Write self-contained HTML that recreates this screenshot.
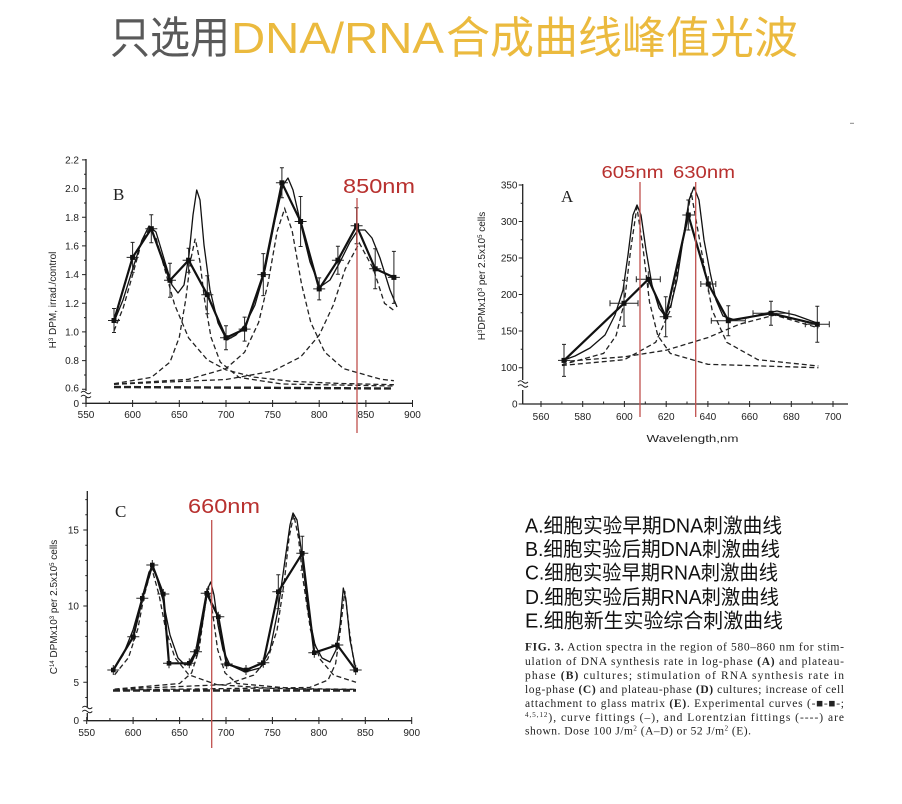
<!DOCTYPE html>
<html><head><meta charset="utf-8"><style>
html,body{margin:0;padding:0;background:#fff;}
svg{display:block;}
.t{font-family:"Liberation Sans",Arial,sans-serif;font-size:10px;fill:#222;}
.ax{stroke:#222;stroke-width:1.3;fill:none;}
.tk{stroke:#222;stroke-width:1;fill:none;}
.ex{stroke:#111;stroke-width:2.2;fill:none;stroke-linejoin:round;}
.fit{stroke:#111;stroke-width:1.3;fill:none;stroke-linejoin:round;}
.ds{stroke:#222;stroke-width:1.3;fill:none;stroke-dasharray:5 3;}
.bl{stroke:#222;stroke-width:2.4;fill:none;stroke-dasharray:7 3;}
.er{stroke:#222;stroke-width:1;fill:none;}
.rl{stroke:#c0504d;stroke-width:1.3;}
.rt{font-family:"Liberation Sans","Noto Sans CJK SC",sans-serif;fill:#b8312f;}
.fig{font-family:"Liberation Serif",serif;font-size:17px;fill:#222;}
.cn{font-family:"Liberation Sans","Noto Sans CJK SC",sans-serif;font-size:20px;fill:#111;}
.cap{font-family:"Liberation Serif",serif;font-size:11.5px;fill:#222;}
</style></head><body>
<svg width="902" height="804" viewBox="0 0 902 804" xmlns="http://www.w3.org/2000/svg">
<rect width="902" height="804" fill="#fff"/>

<!-- Title -->
<text y="53" font-size="44" font-family="'Liberation Sans','Noto Sans CJK SC',sans-serif"><tspan x="110" fill="#595959" textLength="120" lengthAdjust="spacingAndGlyphs">只选用</tspan><tspan x="231" fill="#ebba3e" textLength="213" lengthAdjust="spacingAndGlyphs">DNA/RNA</tspan><tspan x="446" fill="#ebba3e" textLength="352" lengthAdjust="spacingAndGlyphs">合成曲线峰值光波</tspan></text>

<path d="M850,123.3h4" stroke="#888" stroke-width="1"/>

<!-- ================= Chart B ================= -->
<g>
<path class="ax" d="M86,159V391M86,397V404M86,403.3H412"/>
<path class="tk" d="M82,159.9h4M82,188.6h4M82,217.3h4M82,245.9h4M82,274.6h4M82,303.3h4M82,331.9h4M82,360.6h4M82,389.3h4M82,403.3h4
M84,174.3h2M84,203h2M84,231.6h2M84,260.3h2M84,289h2M84,317.6h2M84,346.3h2M84,375h2"/>
<path class="tk" d="M86,400v7M132.6,400v7M179.3,400v7M226,400v7M272.6,400v7M319.2,400v7M365.9,400v7M412.5,400v7
M109.3,401v2.3M156,401v2.3M202.6,401v2.3M249.3,401v2.3M295.9,401v2.3M342.6,401v2.3M389.2,401v2.3"/>
<path d="M81,392.5q2.5,-2.5 5,0t5,0M81,396.5q2.5,-2.5 5,0t5,0" stroke="#222" stroke-width="1" fill="none"/>
<g class="t" text-anchor="end">
<text x="79" y="163.5">2.2</text><text x="79" y="192">2.0</text><text x="79" y="221">1.8</text><text x="79" y="249.5">1.6</text><text x="79" y="278">1.4</text><text x="79" y="307">1.2</text><text x="79" y="335.5">1.0</text><text x="79" y="364">0.8</text><text x="79" y="391.5">0.6</text><text x="79" y="407">0</text>
</g>
<g class="t" text-anchor="middle">
<text x="86" y="418">550</text><text x="132.6" y="418">600</text><text x="179.3" y="418">650</text><text x="226" y="418">700</text><text x="272.6" y="418">750</text><text x="319.2" y="418">800</text><text x="365.9" y="418">850</text><text x="412.5" y="418">900</text>
</g>
<text class="t" font-size="9" text-anchor="middle" transform="translate(56,300) rotate(-90)">H<tspan font-size="6" dy="-3">3</tspan><tspan dy="3"> DPM, irrad./control</tspan></text>
<text class="fig" x="113" y="200">B</text>

<path class="bl" d="M114,387L394,388.5"/>
<path class="ds" d="M114,330.9L123.3,307.6L132.6,274.9L142,240.6L149.4,228.7L156,238L165.3,271.1L174.6,304.7L188.6,337.9L207.3,359.8L226,369.9L253.9,377.1L291.2,381.3L337.9,383.4L393.9,384.7"/>
<path class="ds" d="M114,383.7L151.3,377.4L170,362.1L179.3,337.2L185.8,299.2L190.5,260.7L195.2,238.7L199.8,260.7L204.5,299.2L211,337.2L220.3,362.1L239,377.4L281.9,384L393.9,386"/>
<path class="ds" d="M114,384.1L188.6,379.3L226,368.6L244.6,352.2L258.6,322.5L267.9,283.9L277.2,231.1L284.7,208.6L292.2,231.1L301.5,283.9L310.8,322.5L324.8,352.2L343.5,368.6L380.8,379.3L393.9,380.7"/>
<path class="ds" d="M114,384.3L226,379.5L272.6,371.2L300.6,357L319.2,335.2L333.2,305.3L345.3,268.8L359.3,243L373.3,268.8L384.5,303.3L393.9,310.4"/>
<path class="fit" d="M114,322L123,300L133,268L142,240L149,226L156,232L165,262L172,285L178,293L184,285L189,255L193,215L196.7,190L200,200L204,245L210,290L218,323L226.7,340L236,335L245,325L255,305L265,270L275,220L283,185L288,178L293,190L301,225L310,262L320,287L330,280L340,262L350,242L358,230L365,230L372,238L380,258L390,290L397,307"/>
<path class="ex" d="M114,320.5L132.6,257.4L151.3,228.7L170,280.3L188.6,260.2L207.3,294.7L226,337.7L244.6,329.1L263.3,274.6L281.9,182.8L300.6,221.5L319.2,288.9L337.9,260.2L356.6,225.8L375.2,268.8L393.9,277.4"/>
<path class="er" d="M108,320.5h12M114,308.5v24M112,308.5h4M112,332.5h4
M126.6,257.4h12M132.6,242.4v30M130.6,242.4h4M130.6,272.4h4
M145.3,228.7h12M151.3,214.7v28M149.3,214.7h4M149.3,242.7h4
M164,280.3h12M170,263.3v34M168,263.3h4M168,297.3h4
M182.6,260.2h12M188.6,248.2v24M186.6,248.2h4M186.6,272.2h4
M201.3,294.7h12M207.3,275.7v38M205.3,275.7h4M205.3,313.7h4
M220,337.7h12M226,325.7v24M224,325.7h4M224,349.7h4
M238.6,329.1h12M244.6,317.1v24M242.6,317.1h4M242.6,341.1h4
M257.3,274.6h12M263.3,253.6v42M261.3,253.6h4M261.3,295.6h4
M275.9,182.8h12M281.9,167.8v30M279.9,167.8h4M279.9,197.8h4
M294.6,221.5h12M300.6,196.5v50M298.6,196.5h4M298.6,246.5h4
M313.2,288.9h12M319.2,277.9v22M317.2,277.9h4M317.2,299.9h4
M331.9,260.2h12M337.9,246.2v28M335.9,246.2h4M335.9,274.2h4
M350.6,225.8h12M356.6,207.8v36M354.6,207.8h4M354.6,243.8h4
M369.2,268.8h12M375.2,248.8v40M373.2,248.8h4M373.2,288.8h4
M387.9,277.4h12M393.9,251.4v52M391.9,251.4h4M391.9,303.4h4"/>
<g fill="#111">
<rect x="111.5" y="318" width="5" height="5"/><rect x="130.1" y="254.9" width="5" height="5"/><rect x="148.8" y="226.2" width="5" height="5"/><rect x="167.5" y="277.8" width="5" height="5"/><rect x="186.1" y="257.7" width="5" height="5"/><rect x="204.8" y="292.2" width="5" height="5"/><rect x="223.5" y="335.2" width="5" height="5"/><rect x="242.1" y="326.6" width="5" height="5"/><rect x="260.8" y="272.1" width="5" height="5"/><rect x="279.4" y="180.3" width="5" height="5"/><rect x="298.1" y="219" width="5" height="5"/><rect x="316.7" y="286.4" width="5" height="5"/><rect x="335.4" y="257.7" width="5" height="5"/><rect x="354.1" y="223.3" width="5" height="5"/><rect x="372.7" y="266.3" width="5" height="5"/><rect x="391.4" y="274.9" width="5" height="5"/>
</g>
<line class="rl" x1="357" y1="198" x2="357" y2="433"/>
<text class="rt" x="343" y="193" font-size="20" textLength="72" lengthAdjust="spacingAndGlyphs">850nm</text>
</g>

<!-- ================= Chart A ================= -->
<g>
<path class="ax" d="M522.7,184V380M522.7,390V404.5M522.7,404H848"/>
<path class="tk" d="M518.7,185h4M518.7,221.5h4M518.7,258h4M518.7,294.5h4M518.7,331h4M518.7,367.7h4M518.7,404h4
M520.7,203.3h2M520.7,239.8h2M520.7,276.3h2M520.7,312.8h2M520.7,349.3h2"/>
<path class="tk" d="M541,401v6M582.7,401v6M624.4,401v6M666.2,401v6M707.9,401v6M749.6,401v6M791.3,401v6M833,401v6
M561.9,401.5v2.5M603.6,401.5v2.5M645.3,401.5v2.5M687,401.5v2.5M728.8,401.5v2.5M770.5,401.5v2.5M812.2,401.5v2.5"/>
<path d="M518,382q2.5,-2.5 5,0t5,0M518,386q2.5,-2.5 5,0t5,0" stroke="#222" stroke-width="1" fill="none"/>
<g class="t" text-anchor="end">
<text x="517.5" y="188.5">350</text><text x="517.5" y="225">300</text><text x="517.5" y="261.5">250</text><text x="517.5" y="298">200</text><text x="517.5" y="334.5">150</text><text x="517.5" y="371">100</text><text x="517.5" y="407.5">0</text>
</g>
<g class="t" text-anchor="middle">
<text x="541" y="420">560</text><text x="582.7" y="420">580</text><text x="624.4" y="420">600</text><text x="666.2" y="420">620</text><text x="707.9" y="420">640</text><text x="749.6" y="420">660</text><text x="791.3" y="420">680</text><text x="833" y="420">700</text>
</g>
<text class="t" font-size="12.5" x="692.5" y="442" text-anchor="middle" textLength="92" lengthAdjust="spacingAndGlyphs">Wavelength,nm</text>
<text class="t" font-size="9.5" text-anchor="middle" transform="translate(485,276) rotate(-90)">H<tspan font-size="6" dy="-3">3</tspan><tspan dy="3">DPMx10</tspan><tspan font-size="6" dy="-3">3</tspan><tspan dy="3"> per 2.5x10</tspan><tspan font-size="6" dy="-3">5</tspan><tspan dy="3"> cells</tspan></text>
<text class="fig" x="561" y="202">A</text>

<path class="ds" d="M561.9,364.8L603.6,353.4L616.1,335.6L624.4,302L630.7,249.5L636.9,207.1L643.2,249.5L649.5,302L657.8,335.6L670.3,353.4L707.9,364.3L818.4,367.7"/>
<path class="ds" d="M561.9,365.5L624.4,359.7L655.7,342.3L670.3,310L680.8,251.6L691.2,192.5L701.6,251.6L712.1,310L726.7,342.3L757.9,359.7L818.4,366"/>
<path class="ds" d="M561.9,361.6L624.4,356.8L666.2,350.2L707.9,337.6L739.2,324.3L774.6,315.1L818.4,327.9"/>
<path class="fit" d="M564,360L575,356L590,348L605,335L615,315L623,290L628,255L633,215L637,205L641,215L646,250L652,285L659,308L665,316L671,305L677,280L683,240L689,200L694,187L699,200L704,240L710,272L716,300L723,316L735,320L747,318L762,314L777,311L795,315L817,323"/>
<path class="ex" d="M564,360.4L624,303.3L648.3,279.3L665.7,316.7L688.3,215L708.3,284L728.3,320.7L771,313.3L817.3,324.3"/>
<path class="er" d="M558,360.4h12M564,344.4v32M562,344.4h4M562,376.4h4
M610,303.3h28M624,280.3v46M622,280.3h4M622,326.3h4M610,300.3v6M638,300.3v6
M636.3,279.3h24M648.3,271.3v16M660.3,276.3v6M636.3,276.3v6
M659.7,316.7h12M665.7,296.7v40M663.7,296.7h4M663.7,336.7h4
M682.3,215h12M688.3,200v30M686.3,200h4M686.3,230h4
M700.8,284h15M708.3,276v16M700.8,281v6M715.8,281v6
M711.3,320.7h34M728.3,305.7v30M726.3,305.7h4M726.3,335.7h4M711.3,317.7v6M745.3,317.7v6
M753,313.3h36M771,301.3v24M769,301.3h4M769,325.3h4M753,310.3v6M789,310.3v6
M805.3,324.3h24M817.3,306.3v36M815.3,306.3h4M815.3,342.3h4M805.3,321.3v6M829.3,321.3v6"/>
<g fill="#111">
<rect x="561.5" y="357.9" width="5" height="5"/><rect x="621.5" y="300.8" width="5" height="5"/><rect x="645.8" y="276.8" width="5" height="5"/><rect x="663.2" y="314.2" width="5" height="5"/><rect x="685.8" y="212.5" width="5" height="5"/><rect x="705.8" y="281.5" width="5" height="5"/><rect x="725.8" y="318.2" width="5" height="5"/><rect x="768.5" y="310.8" width="5" height="5"/><rect x="814.8" y="321.8" width="5" height="5"/>
</g>
<line class="rl" x1="640" y1="182" x2="640" y2="417"/>
<line class="rl" x1="695.7" y1="182" x2="695.7" y2="417"/>
<text class="rt" x="601.5" y="178" font-size="17.5" textLength="62" lengthAdjust="spacingAndGlyphs">605nm</text>
<text class="rt" x="673" y="178" font-size="17.5" textLength="62" lengthAdjust="spacingAndGlyphs">630nm</text>
</g>

<!-- ================= Chart C ================= -->
<g>
<path class="ax" d="M87.3,491V707M87.3,713V721M87.3,720.7H412"/>
<path class="tk" d="M83.3,530h4M83.3,606h4M83.3,682.3h4M83.3,720.7h4
M85.3,499.6h2M85.3,514.8h2M85.3,545.2h2M85.3,560.4h2M85.3,575.6h2M85.3,590.8h2M85.3,621.2h2M85.3,636.4h2M85.3,651.6h2M85.3,666.8h2M85.3,697.5h2"/>
<path class="tk" d="M86.7,717v7M133.1,717v7M179.6,717v7M226,717v7M272.4,717v7M318.9,717v7M365.3,717v7M411.7,717v7
M109.9,718v2.7M156.4,718v2.7M202.8,718v2.7M249.2,718v2.7M295.7,718v2.7M342.1,718v2.7M388.5,718v2.7"/>
<path d="M82.3,707.5q2.5,-2.5 5,0t5,0M82.3,711.5q2.5,-2.5 5,0t5,0" stroke="#222" stroke-width="1" fill="none"/>
<g class="t" text-anchor="end">
<text x="79" y="533.5">15</text><text x="79" y="609.5">10</text><text x="79" y="685.8">5</text><text x="79" y="724">0</text>
</g>
<g class="t" text-anchor="middle">
<text x="86.7" y="736">550</text><text x="133.1" y="736">600</text><text x="179.6" y="736">650</text><text x="226" y="736">700</text><text x="272.4" y="736">750</text><text x="318.9" y="736">800</text><text x="365.3" y="736">850</text><text x="411.7" y="736">900</text>
</g>
<text class="t" font-size="9.5" text-anchor="middle" transform="translate(57,607) rotate(-90)">C<tspan font-size="6" dy="-3">14</tspan><tspan dy="3"> DPMx10</tspan><tspan font-size="6" dy="-3">3</tspan><tspan dy="3"> per 2.5x10</tspan><tspan font-size="6" dy="-3">5</tspan><tspan dy="3"> cells</tspan></text>
<text class="fig" x="115" y="517">C</text>

<path class="bl" d="M113,690.5L356,690.5"/>
<path class="ds" d="M114.6,674.8L128.5,657.6L137.8,629L144.3,595.1L151.7,568.1L159.1,595.1L165.6,629L174.9,657.6L188.8,674.8L216.7,684.6L272.4,688.4L356,689.3"/>
<path class="ds" d="M114.6,689.1L179.6,683.5L191.6,672.9L199.1,649.4L203.7,615.5L208.3,586.4L213,615.5L217.6,649.4L225,672.9L237.1,683.5L300.3,689.1L356,689.5"/>
<path class="ds" d="M114.6,689.2L226,684.6L253.8,675.1L267.8,658.9L277.1,629.9L284.5,579.9L289.1,537.4L293.8,514.9L298.4,537.4L303.1,579.9L310.5,629.9L319.8,658.9L333.7,675.1L356,682.3"/>
<path class="ds" d="M114.6,690L309.6,687.5L328.1,680L335.6,663.7L340.2,631.5L344.8,591L349.5,631.5L354.1,663.7L356,670.1"/>
<path class="fit" d="M113,670L123,655L133,630L142,598L149,572L152,568L156,575L163,600L170,635L178,658L185,665L192,662L198,648L203,620L208,588L210.7,582L214,595L218,625L223,650L230,665L245,672L260,668L270,650L278,610L285,560L290,525L293,513L297,520L302,555L308,610L315,645L322,658L330,662L336,650L340,625L343.3,588L346,600L350,640L356,670"/>
<path class="ex" d="M113.3,670L133.3,636.7L142.3,598.3L152.3,565L163.3,594L169,663.3L189.3,663.3L196,651.7L206.7,593.3L218.3,616.7L226.7,664L246,670L263.3,662.7L278.3,591.7L302.3,553.3L314.3,652.7L337.3,645L355.7,670"/>
<path class="er" d="M107.3,670h12M113.3,665v10
M127.3,636.7h12M133.3,631.7v10
M136.3,598.3h12M142.3,593.3v10
M146.3,565h12M152.3,560v10
M157.3,594h12M163.3,589v10
M163,663.3h12M169,658.3v10
M183.3,663.3h12M189.3,658.3v10
M190,651.7h12M196,646.7v10
M200.7,593.3h12M206.7,588.3v10
M212.3,616.7h12M218.3,611.7v10
M220.7,664h12M226.7,659v10
M240,670h12M246,665v10
M257.3,662.7h12M263.3,657.7v10
M272.3,591.7h12M278.3,574.7v34M276.3,574.7h4M276.3,608.7h4
M296.3,553.3h12M302.3,536.3v34M300.3,536.3h4M300.3,570.3h4
M308.3,652.7h12M314.3,647.7v10
M331.3,645h12M337.3,640v10
M349.7,670h12M355.7,665v10"/>
<g fill="#111">
<rect x="111" y="667.7" width="4.6" height="4.6"/><rect x="131" y="634.4" width="4.6" height="4.6"/><rect x="140" y="596" width="4.6" height="4.6"/><rect x="150" y="562.7" width="4.6" height="4.6"/><rect x="161" y="591.7" width="4.6" height="4.6"/><rect x="166.7" y="661" width="4.6" height="4.6"/><rect x="187" y="661" width="4.6" height="4.6"/><rect x="193.7" y="649.4" width="4.6" height="4.6"/><rect x="204.4" y="591" width="4.6" height="4.6"/><rect x="216" y="614.4" width="4.6" height="4.6"/><rect x="224.4" y="661.7" width="4.6" height="4.6"/><rect x="243.7" y="667.7" width="4.6" height="4.6"/><rect x="261" y="660.4" width="4.6" height="4.6"/><rect x="276" y="589.4" width="4.6" height="4.6"/><rect x="300" y="551" width="4.6" height="4.6"/><rect x="312" y="650.4" width="4.6" height="4.6"/><rect x="335" y="642.7" width="4.6" height="4.6"/><rect x="353.4" y="667.7" width="4.6" height="4.6"/>
</g>
<line class="rl" x1="211.7" y1="520" x2="211.7" y2="748"/>
<text class="rt" x="188" y="513" font-size="20" textLength="72" lengthAdjust="spacingAndGlyphs">660nm</text>
</g>

<!-- ================= Chinese legend ================= -->
<text class="cn" x="525" y="532.5" textLength="257" lengthAdjust="spacingAndGlyphs">A.细胞实验早期DNA刺激曲线</text>
<text class="cn" x="525" y="556" textLength="255" lengthAdjust="spacingAndGlyphs">B.细胞实验后期DNA刺激曲线</text>
<text class="cn" x="525" y="579.5" textLength="253" lengthAdjust="spacingAndGlyphs">C.细胞实验早期RNA刺激曲线</text>
<text class="cn" x="525" y="604" textLength="254" lengthAdjust="spacingAndGlyphs">D.细胞实验后期RNA刺激曲线</text>
<text class="cn" x="525" y="627.5" textLength="258" lengthAdjust="spacingAndGlyphs">E.细胞新生实验综合刺激曲线</text>

<!-- ================= Caption ================= -->
<text class="cap" x="525" y="650.5" textLength="319" lengthAdjust="spacing"><tspan font-weight="bold">FIG. 3.</tspan>   Action spectra in the region of 580–860 nm for stim-</text>
<text class="cap" x="525" y="665" textLength="319" lengthAdjust="spacing">ulation of DNA synthesis rate in log-phase <tspan font-weight="bold">(A)</tspan> and plateau-</text>
<text class="cap" x="525" y="679" textLength="319" lengthAdjust="spacing">phase <tspan font-weight="bold">(B)</tspan> cultures; stimulation of RNA synthesis rate in</text>
<text class="cap" x="525" y="693" textLength="319" lengthAdjust="spacing">log-phase <tspan font-weight="bold">(C)</tspan> and plateau-phase <tspan font-weight="bold">(D)</tspan> cultures; increase of cell</text>
<text class="cap" x="525" y="707" textLength="319" lengthAdjust="spacing">attachment to glass matrix <tspan font-weight="bold">(E)</tspan>. Experimental curves (-■-■-;</text>
<text class="cap" x="525" y="721" textLength="319" lengthAdjust="spacing"><tspan font-size="7" dy="-4">4,5,12</tspan><tspan dy="4">), curve fittings (–), and Lorentzian fittings (----) are</tspan></text>
<text class="cap" x="525" y="734.5" textLength="226" lengthAdjust="spacing">shown. Dose 100 J/m<tspan font-size="7" dy="-4">2</tspan><tspan dy="4"> (A–D) or 52 J/m</tspan><tspan font-size="7" dy="-4">2</tspan><tspan dy="4"> (E).</tspan></text>
</svg>
</body></html>
